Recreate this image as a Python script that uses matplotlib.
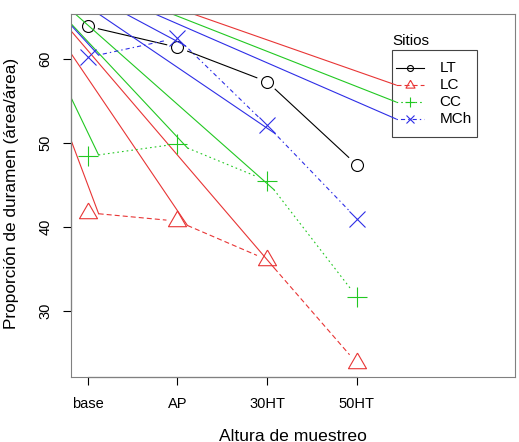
import numpy as np
import matplotlib
matplotlib.use('Agg')
import matplotlib.pyplot as plt
from matplotlib.patches import Rectangle

plt.rcParams['font.family'] = ['Liberation Sans', 'DejaVu Sans']
plt.rcParams['font.size'] = 10.5
plt.rcParams['lines.scale_dashes'] = False

# datos
alturas = ['base', 'AP', '30HT', '50HT']
sitios = ['LT', 'LC', 'CC', 'MCh']
lt = [63.9, 61.4, 57.3, 47.4]
lc = [41.7, 40.7, 36.1, 23.8]
cc = [48.4, 49.9, 45.5, 31.7]
mch = [60.2, 62.5, 52.1, 41.0]
# punto fuera del grafico de donde salen las rectas solidas sueltas
origen = (0.0, 73.5)

series = [lt, lc, cc, mch]
colores = ['black', '#E83535', '#22C822', '#2E2EE6']
estilos = ['-', (0, (3.6, 2.2)), (0, (1.2, 2.2)), (0, (1.0, 2.2, 3.0, 2.2))]
tri = [(0, 1), (-0.866, -0.5), (0.866, -0.5), (0, 1)]
marcas = ['o', tri, '+', 'x']
tamanos = [8.6, 15, 14.5, 12]

fig = plt.figure(figsize=(5.19, 4.42), dpi=100)
ax = fig.add_axes([0.1368, 0.1478, 0.8555, 0.8205])
ax.set_xlim(0.814, 5.764)
ax.set_ylim(22.18, 65.36)

x = np.arange(1, len(alturas) + 1)
gap = 11  # px, como type="b" de R


def tramos(ys):
    pts = ax.transData.transform(np.column_stack([x, ys]))
    inv = ax.transData.inverted()
    out = []
    for p, q in zip(pts[:-1], pts[1:]):
        d = q - p
        u = d / np.hypot(*d)
        out.append(inv.transform(np.array([p + gap * u, q - gap * u])))
    return out


for i, ys in enumerate(series):
    for seg in tramos(ys):
        ax.plot(seg[:, 0], seg[:, 1], color=colores[i], ls=estilos[i], lw=0.8)
        if i > 0:
            ax.plot([origen[0], seg[0, 0]], [origen[1], seg[0, 1]],
                    color=colores[i], lw=0.8)
    ax.plot(x, ys, ls='none', marker=marcas[i], ms=tamanos[i],
            mfc='none', mec=colores[i], mew=0.8)

# leyenda
lx0, lx1, lxm = 4.437, 4.75, 4.59
ly = [58.93 - 2.02 * i for i in range(len(sitios))]
ax.add_patch(Rectangle((4.39, 50.71), 0.95, 10.36, fill=False,
                       ec='#444444', lw=0.8))
ax.text(4.40, 62.15, 'Sitios', ha='left', va='center', fontsize=11)
for i, s in enumerate(sitios):
    ax.plot([lx0, lx1], [ly[i], ly[i]], color=colores[i], ls=estilos[i], lw=0.8)
    ax.plot([lxm], [ly[i]], marker=marcas[i], ms=tamanos[i] * 0.5,
            mfc='none', mec=colores[i], mew=0.8)
    ax.text(4.92, ly[i], s, ha='left', va='center', fontsize=11)
    if i > 0:
        ax.plot([origen[0], lx0], [origen[1], ly[i]], color=colores[i], lw=0.8)

# caja gris y ejes negros
for sp in ax.spines.values():
    sp.set_color('#808080')
    sp.set_linewidth(0.8)
ax.plot([1, 4], [0, 0], color='black', lw=0.8, transform=ax.get_xaxis_transform(), clip_on=False)
ax.plot([0, 0], [30, 60], color='black', lw=0.8, transform=ax.get_yaxis_transform(), clip_on=False)

ax.set_xticks(x)
ax.set_xticklabels(alturas)
ax.set_yticks([30, 40, 50, 60])
ax.tick_params(length=5.5, width=0.8, color='black', labelsize=10.5)
ax.tick_params(axis='x', pad=9)
ax.tick_params(axis='y', pad=8)
for lab in ax.get_yticklabels():
    lab.set_rotation(90)
    lab.set_va('center')

fig.text(293 / 519, 1 - 441 / 442, 'Altura de muestreo', ha='center', va='baseline', fontsize=12.6)
fig.text(12 / 519, 1 - 193 / 442, 'Proporción de duramen (área/área)', ha='center',
         va='center', rotation=90, fontsize=12.4)

fig.savefig('out.png', dpi=100)
